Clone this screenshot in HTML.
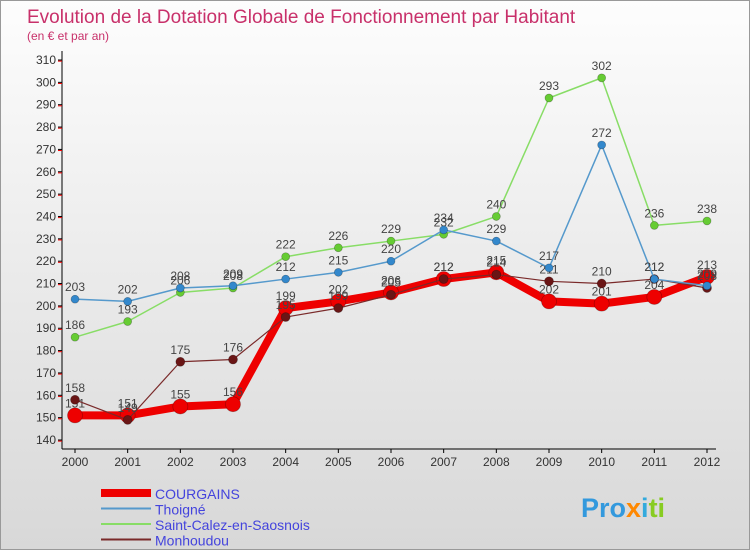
<!DOCTYPE html>
<html><head><meta charset="utf-8"><style>
body{margin:0;width:750px;height:550px;overflow:hidden;font-family:"Liberation Sans",sans-serif}
#wrap{position:relative;width:748px;height:548px;border:1px solid #999;background:linear-gradient(#fdfdfd,#d8d8d8)}
</style></head><body>
<div id="wrap">
<svg id="svg" width="748" height="548" xmlns="http://www.w3.org/2000/svg">
<text x="26" y="22" font-size="19" fill="#c8306a">Evolution de la Dotation Globale de Fonctionnement par Habitant</text>
<text x="26" y="39" font-size="12" fill="#c8306a">(en € et par an)</text>
<g id="axes"></g><g id="series"></g><g id="legend"></g>
<g><text x="580" y="516" font-size="27" font-weight="bold" fill="#3399dd">Pro<tspan fill="#ff8800">x</tspan><tspan fill="#33aadd">i</tspan><tspan fill="#88cc22">ti</tspan></text></g>
</svg></div>
<script>
const years=[2000,2001,2002,2003,2004,2005,2006,2007,2008,2009,2010,2011,2012];
const yTicks=[140,150,160,170,180,190,200,210,220,230,240,250,260,270,280,290,300,310];
const courgains=[151,151,155,156,199,202,206,212,215,202,201,204,213];
const thoigne=[203,202,208,209,212,215,220,234,229,217,272,212,209];
const saintCalez=[186,193,206,208,222,226,229,232,240,293,302,236,238];
const monhoudou=[158,149,175,176,195,199,205,212,214,211,210,212,208];
const NS="http://www.w3.org/2000/svg";
const X=i=>74+i*(632/12);
const Y=v=>59+(310-v)*(380/170);
function mk(t,a,p){const e=document.createElementNS(NS,t);for(const k in a)e.setAttribute(k,a[k]);p.appendChild(e);return e;}
const ax=document.getElementById('axes');
let a=mk('line',{x1:61,y1:50,x2:61,y2:448,stroke:'#000'},ax);


a=mk('line',{x1:61,y1:448,x2:715,y2:448,stroke:'#000'},ax);


yTicks.forEach(v=>{const y=Y(v);
mk('line',{x1:57,y1:y,x2:61,y2:y,stroke:'#000'},ax);
mk('line',{x1:57,y1:y+380/340,x2:61,y2:y+380/340,stroke:'#e00'},ax);
const t=mk('text',{x:55,y:y+4,'font-size':12,fill:'#333','text-anchor':'end'},ax);t.textContent=v;

});
years.forEach((yr,i)=>{const x=X(i);mk('line',{x1:x,y1:448,x2:x,y2:452,stroke:'#000'},ax);
const t=mk('text',{x:x,y:465,'font-size':12,fill:'#333','text-anchor':'middle'},ax);t.textContent=yr;

});
const sg=document.getElementById('series');
const defs=[['monhoudou',monhoudou,'#7a2a2a','#6a1515',1.2,4.5],['saint-calez',saintCalez,'#88dd66','#66cc33',1.5,4],['thoigne',thoigne,'#5599cc','#3388cc',1.5,4],['courgains',courgains,'#ee0000','#ee0000',8,7.5]];
const order=[defs[3],defs[0],defs[1],defs[2]];
order.forEach(([n,data,lc,pc,w,r])=>{const g=mk('g',{},sg);


const l=mk('polyline',{points:data.map((v,i)=>X(i)+','+Y(v)).join(' '),fill:'none',stroke:lc,'stroke-width':w,'stroke-linejoin':'round'},g);


data.forEach((v,i)=>{const c=mk('circle',{cx:X(i),cy:Y(v),r:r,fill:pc,stroke:'rgba(0,0,0,0.3)','stroke-width':0.7},g);


const t=mk('text',{x:X(i),y:Y(v)-8,'font-size':12,fill:'#444','text-anchor':'middle'},g);t.textContent=v;

});});
const lg=document.getElementById('legend');
const leg=[['COURGAINS','#ee0000',8],['Thoigné','#5599cc',2],['Saint-Calez-en-Saosnois','#88dd66',2],['Monhoudou','#7a2a2a',2]];
leg.forEach(([n,c,w],i)=>{const y=492+i*15.5;const g=mk('g',{},lg);


mk('line',{x1:100,y1:y,x2:150,y2:y,stroke:c,'stroke-width':w},g);
const t=mk('text',{x:154,y:y+6,'font-size':14,fill:'#4444dd'},g);t.textContent=n;});
</script>
</body></html>
